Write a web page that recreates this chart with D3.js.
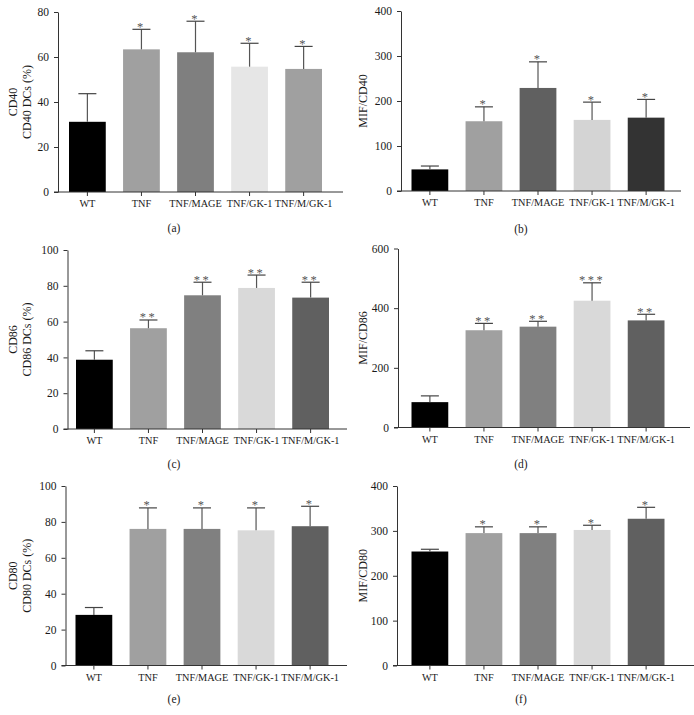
<!DOCTYPE html>
<html>
<head>
<meta charset="utf-8">
<script src="https://cdn.jsdelivr.net/npm/d3@7"></script>
<style>
  body { margin: 0; background: #fff; }
  svg text { font-family: "Liberation Serif", "Times New Roman", serif; fill: #1a1a1a; }
</style>
</head>
<body>
<svg id="chart" width="694" height="715"></svg>
<script>
const groups = ["WT", "TNF", "TNF/MAGE", "TNF/GK-1", "TNF/M/GK-1"]

// values (mean, upper error)
const cd40Pct = [31.2, 63.4, 62.1, 55.7, 54.7]
const cd40PctErr = [12.5, 8.9, 13.8, 10.4, 10.0]
const cd40Mif = [48, 155, 229, 158, 163]
const cd40MifErr = [7.5, 32, 58, 39.5, 40.5]
const cd86Pct = [38.7, 56.3, 74.7, 78.8, 73.4]
const cd86PctErr = [5.0, 4.6, 7.3, 7.2, 8.6]
const cd86Mif = [85, 326, 338, 425, 359]
const cd86MifErr = [21, 23, 18, 60, 20.5]
const cd80Pct = [28.2, 76.1, 76.1, 75.3, 77.6]
const cd80PctErr = [4.1, 11.7, 11.7, 12.5, 11.1]
const cd80Mif = [254, 295, 295, 302, 327]
const cd80MifErr = [5, 14, 14, 10.5, 25.5]

const starsOne = ["", "*", "*", "*", "*"]
const starsC = ["", "**", "**", "**", "**"]
const starsD = ["", "**", "**", "***", "**"]

const ticks80 = [0, 20, 40, 60, 80]
const ticks100 = [0, 20, 40, 60, 80, 100]
const ticks400 = [0, 100, 200, 300, 400]
const ticks600 = [0, 200, 400, 600]

const greysA = ["#000000", "#a0a0a0", "#7f7f7f", "#e6e6e6", "#a0a0a0"]
const greysB = ["#000000", "#a0a0a0", "#606060", "#d4d4d4", "#333333"]
const greysRest = ["#000000", "#a0a0a0", "#808080", "#d9d9d9", "#606060"]

const panels = [
  { id: "(a)", values: cd40Pct, errs: cd40PctErr, stars: starsOne, ticks: ticks80, colors: greysA,
    label: ["CD40", "CD40 DCs (%)"], ox: 0, axisX: 58, yTop: 12, yBot: 192, barL: 69, right: 343, capY: 232 },
  { id: "(b)", values: cd40Mif, errs: cd40MifErr, stars: starsOne, ticks: ticks400, colors: greysB,
    label: ["MIF/CD40"], ox: 347, axisX: 401, yTop: 11, yBot: 191, barL: 411.5, right: 681, capY: 233 },
  { id: "(c)", values: cd86Pct, errs: cd86PctErr, stars: starsC, ticks: ticks100, colors: greysRest,
    label: ["CD86", "CD86 DCs (%)"], ox: 0, axisX: 67.5, yTop: 250, yBot: 429, barL: 76, right: 347, capY: 468 },
  { id: "(d)", values: cd86Mif, errs: cd86MifErr, stars: starsD, ticks: ticks600, colors: greysRest,
    label: ["MIF/CD86"], ox: 347, axisX: 398, yTop: 248.5, yBot: 427.5, barL: 411.5, right: 690, capY: 468 },
  { id: "(e)", values: cd80Pct, errs: cd80PctErr, stars: starsOne, ticks: ticks100, colors: greysRest,
    label: ["CD80", "CD80 DCs (%)"], ox: 0, axisX: 65.5, yTop: 486, yBot: 665.5, barL: 75.5, right: 347, capY: 703 },
  { id: "(f)", values: cd80Mif, errs: cd80MifErr, stars: starsOne, ticks: ticks400, colors: greysRest,
    label: ["MIF/CD80"], ox: 347, axisX: 397, yTop: 486, yBot: 665.5, barL: 411.5, right: 694, capY: 703 }
]

const svg = d3.select("#chart")
svg.append("rect").attr("width", 694).attr("height", 715).attr("fill", "#fff")

panels.forEach(p => {
  const g = svg.append("g")

  const y = d3.scaleLinear()
    .domain([0, d3.max(p.ticks)])
    .range([p.yBot, p.yTop])

  const x = d3.scaleBand()
    .domain(groups)
    .range([p.barL, p.barL + 253])
    .paddingInner(0.32)
    .paddingOuter(0)

  // bars
  g.selectAll(".bar")
    .data(p.values)
    .join("rect")
    .attr("class", "bar")
    .attr("x", (d, i) => x(groups[i]))
    .attr("y", d => y(d))
    .attr("width", x.bandwidth())
    .attr("height", d => p.yBot - y(d))
    .attr("fill", (d, i) => p.colors[i])

  // error bars (upper only)
  const cx = i => x(groups[i]) + x.bandwidth() / 2
  const err = g.selectAll(".err")
    .data(p.values)
    .join("g")
    .attr("class", "err")
  err.append("line")
    .attr("x1", (d, i) => cx(i)).attr("x2", (d, i) => cx(i))
    .attr("y1", d => y(d)).attr("y2", (d, i) => y(d + p.errs[i]))
    .attr("stroke", "#555").attr("stroke-width", 1.2)
  err.append("line")
    .attr("x1", (d, i) => cx(i) - 9).attr("x2", (d, i) => cx(i) + 9)
    .attr("y1", (d, i) => y(d + p.errs[i])).attr("y2", (d, i) => y(d + p.errs[i]))
    .attr("stroke", "#444").attr("stroke-width", 1.2)

  // significance stars
  g.selectAll(".star")
    .data(p.values)
    .join("text")
    .attr("class", "star")
    .attr("x", (d, i) => cx(i))
    .attr("y", (d, i) => y(d + p.errs[i]) + 1.5)
    .attr("text-anchor", "middle")
    .attr("font-size", 12.5)
    .attr("letter-spacing", 2.5)
    .style("fill", "#555")
    .text((d, i) => p.stars[i])

  // axes
  const yAxis = d3.axisLeft(y).tickValues(p.ticks).tickSize(4).tickSizeOuter(0).tickPadding(5)
  const yg = g.append("g")
    .attr("transform", `translate(${p.axisX},0)`)
    .call(yAxis)
  yg.selectAll("text").attr("font-size", 11.5)

  const xAxis = d3.axisBottom(x).tickSize(4).tickPadding(4)
  const xg = g.append("g")
    .attr("transform", `translate(0,${p.yBot})`)
    .call(xAxis)
  xg.select(".domain").remove()
  xg.selectAll("text").attr("font-size", 10.3)
  g.append("line")
    .attr("x1", p.axisX - 4).attr("x2", p.right)
    .attr("y1", p.yBot).attr("y2", p.yBot)
    .attr("stroke", "#333")

  g.selectAll(".domain, .tick line").attr("stroke", "#333")
  g.selectAll(".tick text").style("fill", "#1a1a1a").attr("font-family", null)

  // y label
  const midY = (p.yTop + p.yBot) / 2
  const lx = p.label.length === 2 ? [p.ox + 17, p.ox + 30.5] : [p.ox + 19.5]
  p.label.forEach((t, k) => {
    g.append("text")
      .attr("transform", `translate(${lx[k]},${midY}) rotate(-90)`)
      .attr("text-anchor", "middle")
      .attr("font-size", 12)
      .text(t)
  })

  // panel caption
  g.append("text")
    .attr("x", p.ox + 174)
    .attr("y", p.capY)
    .attr("text-anchor", "middle")
    .attr("font-size", 11.5)
    .text(p.id)
})
</script>
</body>
</html>
